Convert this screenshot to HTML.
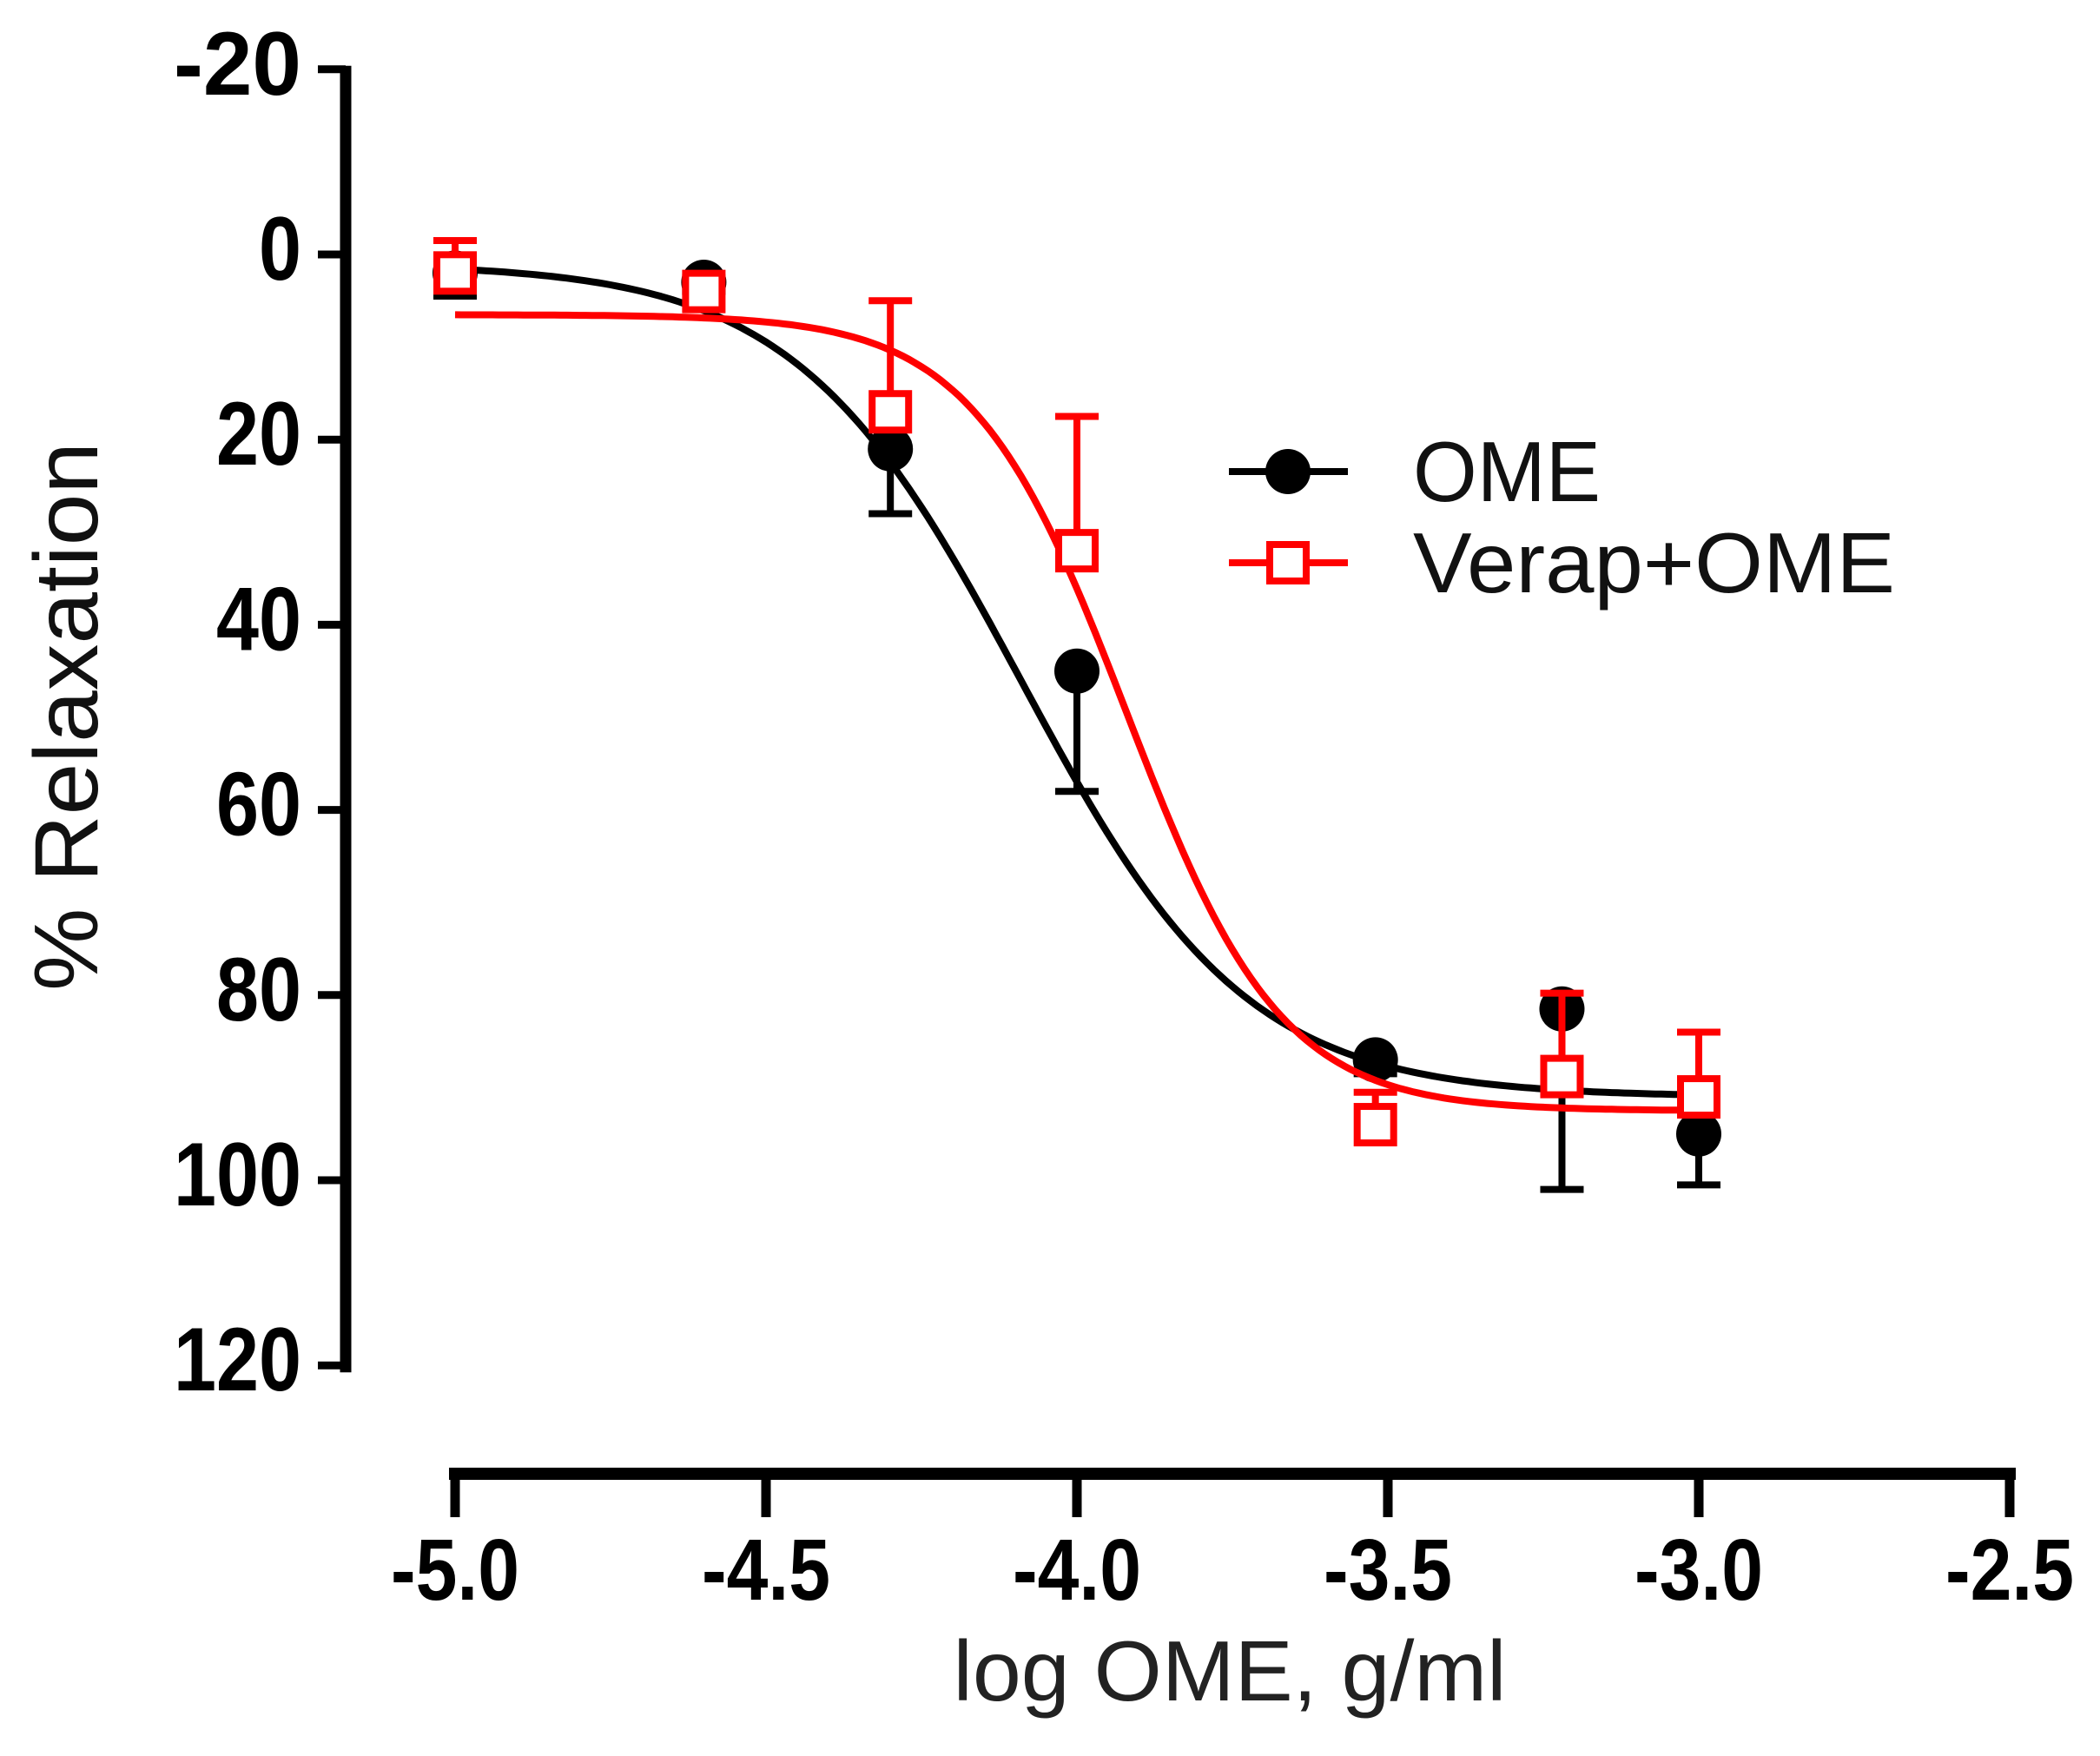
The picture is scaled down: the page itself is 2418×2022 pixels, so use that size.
<!DOCTYPE html>
<html><head><meta charset="utf-8"><style>html,body{margin:0;padding:0;background:#fff}svg{display:block}</style></head>
<body>
<svg id="chart" width="2418" height="2022" viewBox="0 0 2418 2022" xmlns="http://www.w3.org/2000/svg"></svg>
<script>
const xTicks = [-5.0, -4.5, -4.0, -3.5, -3.0, -2.5];
const xTickLabels = ["-5.0", "-4.5", "-4.0", "-3.5", "-3.0", "-2.5"];
const yTicks = [-20, 0, 20, 40, 60, 80, 100, 120];
const yTickLabels = ["-20", "0", "20", "40", "60", "80", "100", "120"];
const doses = [-5.0, -4.6, -4.3, -4.0, -3.52, -3.22, -3.0];
const omeValues = [2, 3, 21, 45, 87, 81.5, 95];
const omeErrors = [2.5, 1, 7, 13, 1.5, 19.5, 5.5];
const verapValues = [2, 4, 17, 32, 94, 88.8, 91];
const verapErrors = [3.5, 1.5, 12, 14.5, 3.5, 9, 7];
const omeFit = [1, 91, -4.09, 2.4];      // bottom, top, logEC50, hill
const verapFit = [6.5, 92.5, -3.92, 3.5];

const NS = "http://www.w3.org/2000/svg";
const svg = document.getElementById('chart');
function X(v){ return 524 + (v + 5) * 716; }
function Y(v){ return 293 + v * 10.66; }
function mk(tag, attrs, parent){
  const e = document.createElementNS(NS, tag);
  for (const k in attrs) e.setAttribute(k, attrs[k]);
  (parent || svg).appendChild(e);
  return e;
}
const AX = 1697;
let g = mk('g', {});


mk('line', {x1:398, y1:Y(-20)-4, x2:398, y2:Y(120)+8, stroke:'#000','stroke-width':13}, g);
yTicks.forEach((t,i)=>{
  mk('line', {x1:366, y1:Y(t), x2:398, y2:Y(t), stroke:'#000','stroke-width':9}, g);
  const tx = mk('text', {x:347, y:Y(t)+29, 'text-anchor':'end', 'font-family':'Liberation Sans, sans-serif', 'font-weight':'bold', 'font-size':104, textLength: yTickLabels[i].length*49, lengthAdjust:'spacingAndGlyphs'}, g);
  tx.textContent = yTickLabels[i];
  
  
});
g = mk('g', {});


mk('line', {x1:X(-5)-7, y1:AX, x2:X(-2.5)+7, y2:AX, stroke:'#000','stroke-width':14}, g);
xTicks.forEach((t,i)=>{
  mk('line', {x1:X(t), y1:AX, x2:X(t), y2:AX+50, stroke:'#000','stroke-width':11}, g);
  const tx = mk('text', {x:X(t), y:1842, 'text-anchor':'middle', 'font-family':'Liberation Sans, sans-serif', 'font-weight':'bold', 'font-size':100, textLength:148, lengthAdjust:'spacingAndGlyphs'}, g);
  tx.textContent = xTickLabels[i];
  
  
});
let t = mk('text', {x:1416, y:1958, 'text-anchor':'middle', 'font-family':'Liberation Sans, sans-serif', 'font-size':98, fill:'#222', textLength:637, lengthAdjust:'spacingAndGlyphs'});
t.textContent = 'log OME, g/ml';


t = mk('text', {x:0, y:0, transform:'translate(112,825) rotate(-90)', 'text-anchor':'middle', 'font-family':'Liberation Sans, sans-serif', 'font-size':104, fill:'#111', textLength:632, lengthAdjust:'spacingAndGlyphs'});
t.textContent = '% Relaxation';



function curve(p, color, name){
  let d = '';
  for (let i=0;i<=200;i++){
    const x = -5 + i*2/200;
    const y = p[0] + (p[1]-p[0])/(1+Math.pow(10,(p[2]-x)*p[3]));
    d += (i?'L':'M') + X(x).toFixed(1) + ' ' + Y(y).toFixed(1);
  }
  const e = mk('path', {d:d, fill:'none', stroke:color, 'stroke-width':8});
  
  
}
function errbars(vals, errs, dir, color, name){
  const gg = mk('g', {});
  
  
  doses.forEach((d,i)=>{
    const x = X(d), y1 = Y(vals[i]), y2 = Y(vals[i]+dir*errs[i]);
    mk('line', {x1:x, y1:y1, x2:x, y2:y2, stroke:color, 'stroke-width':8}, gg);
    mk('line', {x1:x-25, y1:y2, x2:x+25, y2:y2, stroke:color, 'stroke-width':8}, gg);
  });
}
errbars(omeValues, omeErrors, 1, '#000', 'ome-error-bars');
curve(omeFit, '#000', 'ome-fit-curve');
doses.forEach((d,i)=>{
  const c = mk('circle', {cx:X(d), cy:Y(omeValues[i]), r:26, fill:'#000'});
  
  
});
errbars(verapValues, verapErrors, -1, '#f00', 'verap-error-bars');
curve(verapFit, '#f00', 'verap-fit-curve');
doses.forEach((d,i)=>{
  const r = mk('rect', {x:X(d)-21, y:Y(verapValues[i])-21, width:42, height:42, fill:'#fff', stroke:'#f00', 'stroke-width':8});
  
  
});
const lg = mk('g', {});


mk('line', {x1:1415, y1:543, x2:1552, y2:543, stroke:'#000', 'stroke-width':8}, lg);
mk('circle', {cx:1483, cy:543, r:26, fill:'#000'}, lg);
t = mk('text', {x:1627, y:577, 'font-family':'Liberation Sans, sans-serif', 'font-size':98, fill:'#111', textLength:216, lengthAdjust:'spacingAndGlyphs'}, lg);
t.textContent = 'OME';


mk('line', {x1:1415, y1:648, x2:1552, y2:648, stroke:'#f00', 'stroke-width':8}, lg);
mk('rect', {x:1462, y:627, width:42, height:42, fill:'#fff', stroke:'#f00', 'stroke-width':8}, lg);
t = mk('text', {x:1627, y:682, 'font-family':'Liberation Sans, sans-serif', 'font-size':98, fill:'#111', textLength:555, lengthAdjust:'spacingAndGlyphs'}, lg);
t.textContent = 'Verap+OME';


</script>
</body></html>
